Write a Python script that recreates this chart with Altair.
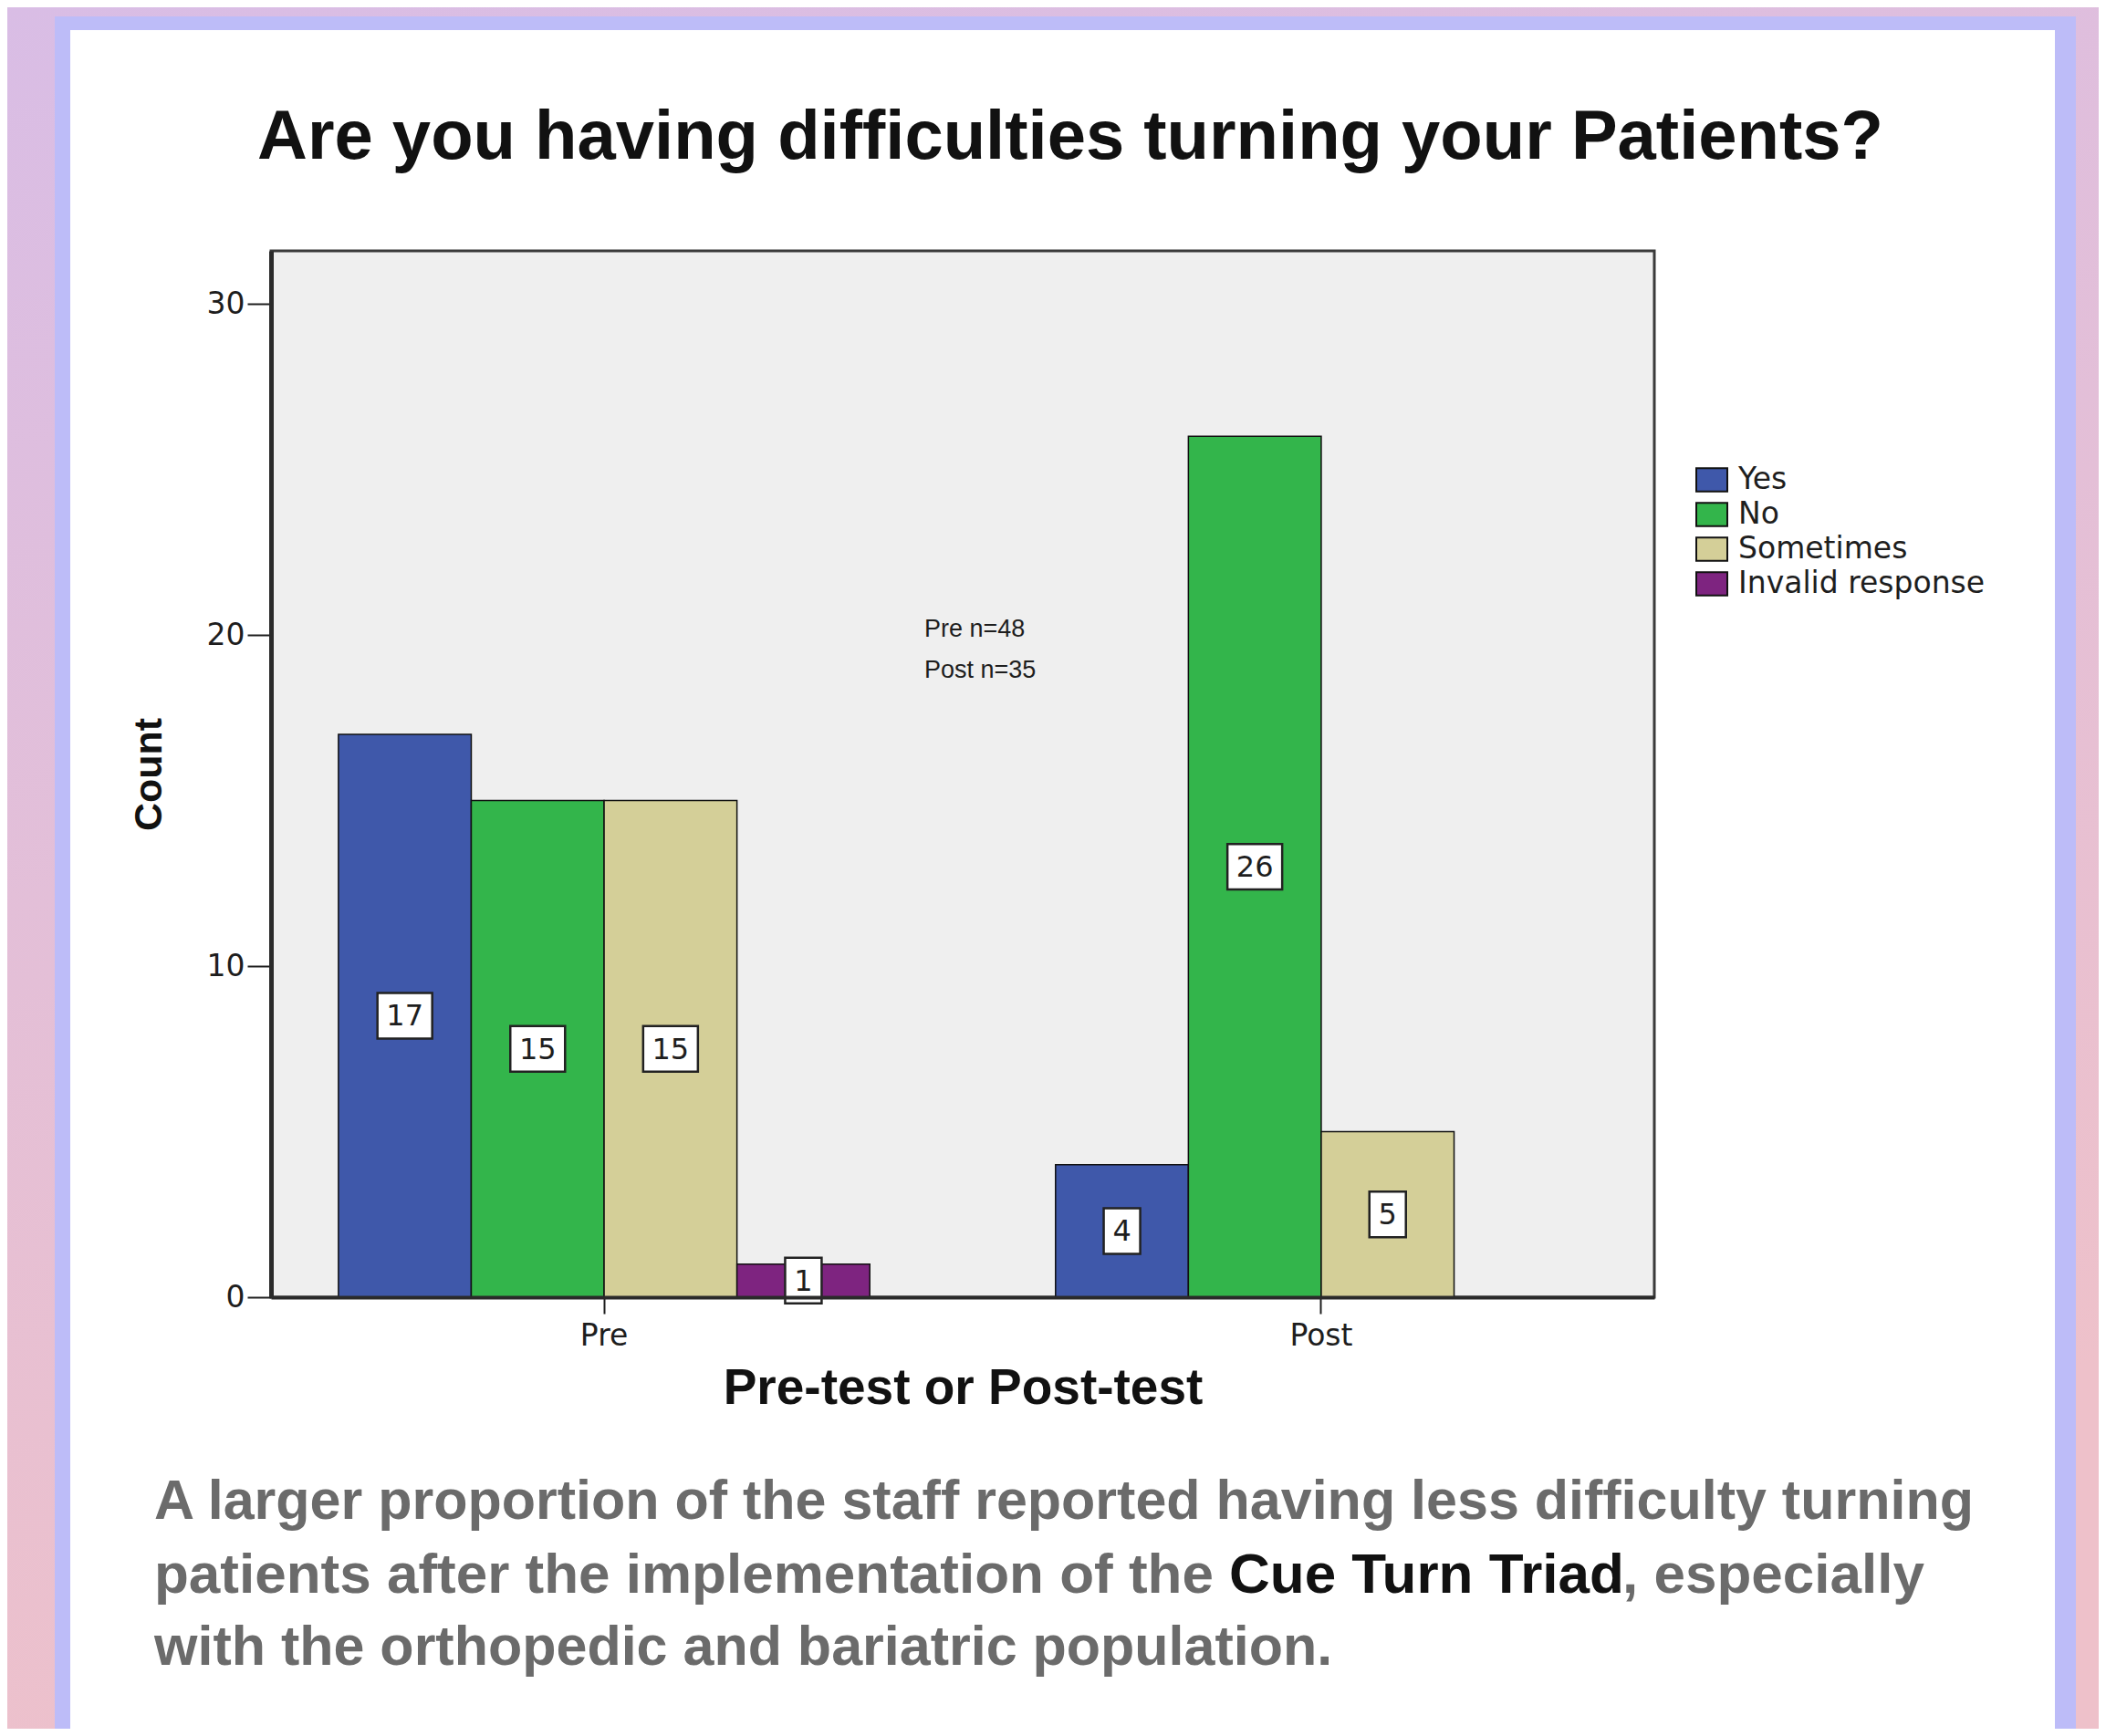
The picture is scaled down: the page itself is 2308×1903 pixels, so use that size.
import altair as alt
import pandas as pd

# ---------------- data ----------------
TITLE = "Are you having difficulties turning your Patients?"
GROUPS = ["Pre", "Post"]
RESPONSES = ["Yes", "No", "Sometimes", "Invalid response"]
PRE_COUNTS = [17, 15, 15, 1]
POST_COUNTS = [4, 26, 5, 0]
COLORS = ["#3F58AA", "#33B54B", "#D4CF98", "#7E2480"]
Y_TICKS = [0, 10, 20, 30]
NOTE_LINES = ["Pre n=48", "Post n=35"]
X_TITLE = "Pre-test or Post-test"
Y_TITLE = "Count"
CAPTION_1 = "A larger proportion of the staff reported having less difficulty turning"
CAPTION_2A = "patients after the implementation of the"
CAPTION_2B = "Cue Turn Triad"
CAPTION_2C = ", especially"
CAPTION_3 = "with the orthopedic and bariatric population."

rows = []
for g, counts in zip(GROUPS, [PRE_COUNTS, POST_COUNTS]):
    for r, c in zip(RESPONSES, counts):
        rows.append({"group": g, "response": r, "count": c})
df = pd.DataFrame(rows)

# ---------------- style ----------------
W, H = 1516, 1147
ARIAL = "'Liberation Sans', Arial, sans-serif"
WIDE = "'DejaVu Sans', sans-serif"
INK = "#1e1e1e"

x_axis = alt.Axis(
    zindex=1,
    labelFont=WIDE, labelFontSize=33, labelColor=INK, labelPadding=8, labelAngle=0,
    tickSize=18, tickWidth=2, tickColor=INK,
    domainColor="#2a2a2a", domainWidth=4, grid=False,
    titleFont=ARIAL, titleFontWeight="bold", titleFontSize=55, titleColor="#111111",
    titleX=W / 2, titleY=116, titleBaseline="alphabetic", titleAlign="center",
)
y_axis = alt.Axis(
    zindex=1,
    values=Y_TICKS, labelFont=WIDE, labelFontSize=33, labelColor=INK, labelPadding=3,
    tickSize=26, tickWidth=2, tickColor=INK,
    domainColor="#2a2a2a", domainWidth=5, grid=False,
    titleFont=ARIAL, titleFontWeight="bold", titleFontSize=43, titleColor="#111111",
    titleAngle=270, titleX=-134, titleY=H / 2, titleBaseline="middle", titleAlign="center",
)

x_scale = alt.Scale(domain=GROUPS, paddingInner=0.259, paddingOuter=0.094)
xo_scale = alt.Scale(domain=RESPONSES)
y_scale = alt.Scale(domain=[0, 31.6], nice=False)

one = alt.Data(values=[{"k": 1}])


def text_layer(txt, x, y, size, color, font, weight="normal", align="left", baseline="alphabetic"):
    return alt.Chart(alt.Data(values=[{"t": txt}])).mark_text(
        font=font, fontSize=size, fontWeight=weight, color=color,
        align=align, baseline=baseline,
    ).encode(text="t:N", x=alt.value(x), y=alt.value(y))


# page background (gradient) and white panel with lavender border
bg = alt.Chart(one).mark_rect(
    fill={"gradient": "linear", "x1": 0, "y1": 0, "x2": 0.3, "y2": 1,
          "stops": [{"offset": 0, "color": "#D9BDE5"}, {"offset": 1, "color": "#EEC1CA"}]},
).encode(x=alt.value(-289), x2=alt.value(2003), y=alt.value(-267), y2=alt.value(1620))
panel_border = alt.Chart(one).mark_rect(fill="#BDBCF8").encode(
    x=alt.value(-237), x2=alt.value(1978), y=alt.value(-257), y2=alt.value(1620))
panel = alt.Chart(one).mark_rect(fill="#FFFFFF").encode(
    x=alt.value(-220), x2=alt.value(1955), y=alt.value(-242), y2=alt.value(1620))
plot_bg = alt.Chart(one).mark_rect(fill="#EFEFEF", stroke="#3a3a3a", strokeWidth=3).encode(
    x=alt.value(0), x2=alt.value(W), y=alt.value(0), y2=alt.value(H))

x_enc = alt.X("group:N", scale=x_scale, axis=x_axis, title=X_TITLE)
xo_enc = alt.XOffset("response:N", scale=xo_scale)

bars = alt.Chart(df).transform_filter("datum.count > 0").mark_bar(
    stroke="#111111", strokeWidth=1.5, opacity=1
).encode(
    x=x_enc,
    xOffset=xo_enc,
    y=alt.Y("count:Q", scale=y_scale, axis=y_axis, title=Y_TITLE),
    color=alt.Color(
        "response:N",
        scale=alt.Scale(domain=RESPONSES, range=COLORS),
        legend=alt.Legend(
            title=None, orient="none", legendX=1561, legendY=233, padding=0,
            symbolType="M-1,-0.75H1V0.75H-1Z", symbolSize=1156,
            symbolStrokeColor="#111111", symbolStrokeWidth=2, symbolOpacity=1,
            labelFont=WIDE, labelFontSize=33, labelColor=INK, labelOffset=11,
            rowPadding=3, labelLimit=600,
        ),
    ),
)

# value labels sit at half the bar height
label_base = alt.Chart(df).transform_filter("datum.count > 0").transform_calculate(
    mid="datum.count / 2"
)
lab_enc = dict(
    x=x_enc,
    xOffset=xo_enc,
    y=alt.Y("mid:Q", scale=y_scale, axis=y_axis, title=Y_TITLE),
)
box2 = label_base.transform_filter("datum.count >= 10").mark_point(
    shape="M-1,-0.833H1V0.833H-1Z", size=3600, filled=True, fill="#FFFFFF",
    stroke="#222222", strokeWidth=2.5, opacity=1,
).encode(**lab_enc)
box1 = label_base.transform_filter("datum.count < 10").mark_point(
    shape="M-0.8,-1H0.8V1H-0.8Z", size=2500, filled=True, fill="#FFFFFF",
    stroke="#222222", strokeWidth=2.5, opacity=1,
).encode(**lab_enc)
labels = label_base.mark_text(
    font=WIDE, fontSize=32, color=INK, baseline="middle", align="center", dy=1
).encode(text="count:Q", **lab_enc)

title = text_layer(TITLE, 876, -101, 76, "#111111", ARIAL, weight="bold", align="center")
note1 = text_layer(NOTE_LINES[0], 716, 423, 27, INK, ARIAL)
note2 = text_layer(NOTE_LINES[1], 716, 468, 27, INK, ARIAL)
cap_gray = "#6B6B6B"
cap1 = text_layer(CAPTION_1, -128, 1390, 61, cap_gray, ARIAL, weight="bold")
cap2a = text_layer(CAPTION_2A, -128, 1471, 62, cap_gray, ARIAL, weight="bold")
cap2b = text_layer(CAPTION_2B, 1050, 1471, 62, "#111111", ARIAL, weight="bold")
cap2c = text_layer(CAPTION_2C, 1481, 1471, 62, cap_gray, ARIAL, weight="bold")
cap3 = text_layer(CAPTION_3, -128, 1550, 61, cap_gray, ARIAL, weight="bold")

chart = alt.layer(
    bg, panel_border, panel, plot_bg, bars, box2, box1, labels,
    title, note1, note2, cap1, cap2a, cap2b, cap2c, cap3,
).properties(
    width=W, height=H, padding=0, background="#E2BFD8",
).configure_view(strokeWidth=0)

chart.save("out.html", embed_options={"renderer": "svg", "actions": False})
